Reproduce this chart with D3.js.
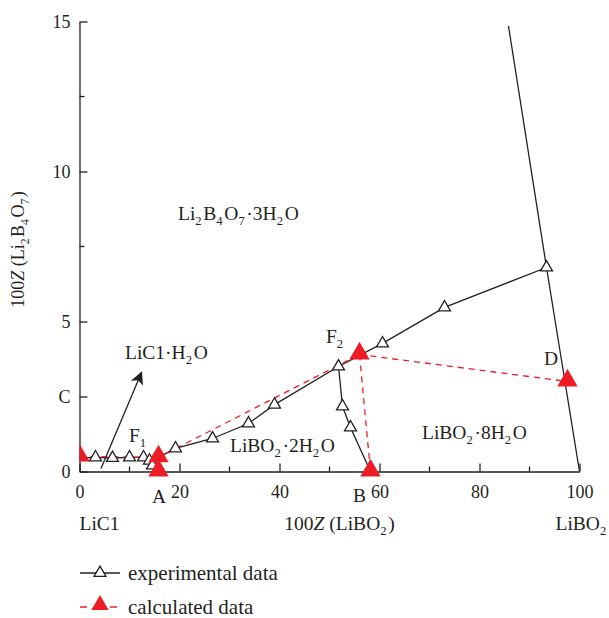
<!DOCTYPE html>
<html><head><meta charset="utf-8">
<script src="https://cdn.jsdelivr.net/npm/d3@7"></script>
<style>body{margin:0;background:#fff}svg text{font-family:"Liberation Serif","DejaVu Serif",serif;fill:#231f20}</style>
</head><body><svg id="c" width="609" height="618"></svg>
<script>
// ---- data ----
const xTicks = [0,20,40,60,80,100];
const xMinor = [10,30,50,70,90];
const yTicks = [0,2.5,5,10,15];
const yTickLabels = ["0","C","5","10","15"];
const yMinor = [7.5,12.5];
// experimental branches [x,y]
const expLiCl = [[0,0.45],[3.2,0.47],[6.6,0.45],[10,0.47],[12.8,0.47],[14.0,0.36],[14.6,0.2],[15.8,0.47]];
const exp2H2O = [[15.8,0.47],[19.2,0.77],[26.6,1.1],[33.8,1.6],[39,2.23],[51.8,3.5]];
const exp8H2O = [[51.8,3.5],[60.6,4.27],[73,5.47],[93.4,6.8]];
const expF2B  = [[51.8,3.5],[52.6,2.17],[54.2,1.47],[58.2,0]];
const expRight = [[85.8,14.85],[93.4,6.8],[100,0]];
const expMarkers = [[3.2,0.47],[6.6,0.45],[10,0.47],[12.8,0.47],[14.0,0.36],[14.6,0.2],[19.2,0.77],[26.6,1.1],[33.8,1.6],[39,2.23],[51.8,3.5],[60.6,4.27],[73,5.47],[93.4,6.8],[52.6,2.17],[54.2,1.47]];
// calculated
const calcLines = [[[0,0.5],[15.8,0.47],[56,3.9]],[[56,3.9],[58.2,0]],[[56,3.9],[97.6,3.0]]];
const calcMarkers = [[0,0.5],[15.8,0],[15.8,0.47],[56,3.9],[58.2,0],[97.6,3.0]];
const arrow = [[4.3,0.1],[12.4,3.3]];

const svg = d3.select("#c");
const x = d3.scaleLinear().domain([0,100]).range([79.5,579.5]);
const y = d3.scaleLinear().domain([0,15]).range([471.5,21.5]);
const FS = 18, LFS = 19.5, GFS = 21;

// axes
const xAxis = d3.axisBottom(x).tickValues(xTicks).tickSizeInner(-8).tickSizeOuter(0).tickPadding(14).tickFormat(d3.format("d"));
const gx = svg.append("g").attr("transform",`translate(0,${y(0)})`).call(xAxis);
gx.selectAll("text").attr("font-size",FS).attr("font-family","Liberation Serif").attr("fill","#231f20");
gx.selectAll("line,path").attr("stroke","#231f20").attr("stroke-width",1.3);
gx.selectAll(".minor").data(xMinor).enter().append("line").attr("x1",d=>x(d)).attr("x2",d=>x(d)).attr("y1",0).attr("y2",-5).attr("stroke","#231f20").attr("stroke-width",1.3);

const yAxis = d3.axisLeft(y).tickValues(yTicks).tickSizeInner(-8).tickSizeOuter(0).tickPadding(9).tickFormat((d,i)=>yTickLabels[i]);
const gy = svg.append("g").attr("transform",`translate(${x(0)},0)`).call(yAxis);
gy.selectAll("text").attr("font-size",FS).attr("font-family","Liberation Serif").attr("fill","#231f20");
gy.selectAll("line,path").attr("stroke","#231f20").attr("stroke-width",1.3);
gy.selectAll(".minor").data(yMinor).enter().append("line").attr("x1",0).attr("x2",5).attr("y1",d=>y(d)).attr("y2",d=>y(d)).attr("stroke","#231f20").attr("stroke-width",1.3);

// helper for chemical text
function chem(g, parts, attrs, fs){
  fs = fs || LFS;
  const t = g.append("text").attr("font-size",fs);
  for (const k in attrs) t.attr(k, attrs[k]);
  parts.forEach(p=>{
    if (typeof p === "string") t.append("tspan").text(p);
    else if (p.sub!==undefined){ t.append("tspan").attr("font-size",fs*0.65).attr("dy",5).text(p.sub); t.append("tspan").attr("dy",-5).text("\u200a"); }
    else if (p.i!==undefined){ t.append("tspan").attr("font-style","italic").text(p.i); }
  });
  return t;
}

const line = d3.line().x(d=>x(d[0])).y(d=>y(d[1]));
// experimental lines
[expLiCl,exp2H2O,exp8H2O,expF2B,expRight].forEach(s=>{
  svg.append("path").attr("d",line(s)).attr("fill","none").attr("stroke","#231f20").attr("stroke-width",1.3);
});
// calc lines
calcLines.forEach(s=>{
  svg.append("path").attr("d",line(s)).attr("fill","none").attr("stroke","#ee1c25").attr("stroke-width",1.3).attr("stroke-dasharray","6,5");
});
// arrow
svg.append("defs").append("marker").attr("id","ah").attr("viewBox","0 0 10 10").attr("refX",9).attr("refY",5)
  .attr("markerWidth",20).attr("markerHeight",13).attr("markerUnits","userSpaceOnUse").attr("orient","auto")
  .append("path").attr("d","M0,0 L10,5 L0,10 L2.5,5 Z").attr("fill","#231f20");
svg.append("path").attr("d",line(arrow)).attr("stroke","#231f20").attr("stroke-width",1.3).attr("marker-end","url(#ah)");

const triOpen = d3.symbol().type(d3.symbolTriangle).size(62);
const triCalc = d3.symbol().type(d3.symbolTriangle).size(180);
svg.selectAll(".exp").data(expMarkers).enter().append("path").attr("d",triOpen)
  .attr("transform",d=>`translate(${x(d[0])},${y(d[1])})`).attr("fill","#fff").attr("stroke","#231f20").attr("stroke-width",1.3);
svg.append("clipPath").attr("id","cp").append("rect").attr("x",x(0)).attr("y",0).attr("width",600).attr("height",y(0)+12);
svg.append("g").attr("clip-path","url(#cp)").selectAll(".calc").data(calcMarkers).enter().append("path").attr("d",triCalc)
  .attr("transform",d=>`translate(${x(d[0])},${y(d[1])-1})`).attr("fill","#ee1c25");

// annotations
const ann = svg.append("g");
chem(ann,["Li",{sub:"2"},"B",{sub:"4"},"O",{sub:"7"},"·3H",{sub:"2"},"O"],{x:x(19.7),y:y(8.4)});
chem(ann,["LiC1·H",{sub:"2"},"O"],{x:x(9.1),y:y(3.75)});
chem(ann,["LiBO",{sub:"2"},"·2H",{sub:"2"},"O"],{x:x(30.1),y:y(0.65)});
chem(ann,["LiBO",{sub:"2"},"·8H",{sub:"2"},"O"],{x:x(68.5),y:y(1.1)});
chem(ann,["F",{sub:"1"}],{x:x(9.9),y:y(1.0)});
chem(ann,["F",{sub:"2"}],{x:x(49.3),y:y(4.3)});
chem(ann,["D"],{x:x(92.9),y:y(3.55)});
chem(ann,["A"],{x:x(15.9),y:y(0)+31,"text-anchor":"middle"});
chem(ann,["B"],{x:x(56),y:y(0)+30,"text-anchor":"middle"});
chem(ann,["LiC1"],{x:x(0),y:y(0)+58});
chem(ann,["100",{i:"Z"}," (LiBO",{sub:"2"},")"],{x:x(52),y:y(0)+58,"text-anchor":"middle"});
chem(ann,["LiBO",{sub:"2"}],{x:x(95.2),y:y(0)+58});
chem(ann,["100",{i:"Z"}," (Li",{sub:"2"},"B",{sub:"4"},"O",{sub:"7"},")"],{transform:`translate(24,${y(7.4)}) rotate(-90)`,"text-anchor":"middle"},18);

// legend
const lg = svg.append("g");
lg.append("line").attr("x1",80).attr("x2",120).attr("y1",573).attr("y2",573).attr("stroke","#231f20").attr("stroke-width",1.3);
lg.append("path").attr("d",triOpen).attr("transform","translate(100,573)").attr("fill","#fff").attr("stroke","#231f20").attr("stroke-width",1.3);
lg.append("text").attr("x",128).attr("y",580).attr("font-size",GFS).text("experimental data");
lg.append("line").attr("x1",80).attr("x2",120).attr("y1",607).attr("y2",607).attr("stroke","#ee1c25").attr("stroke-width",1.3).attr("stroke-dasharray","7,8");
lg.append("path").attr("d",d3.symbol().type(d3.symbolTriangle).size(130)).attr("transform","translate(100,605)").attr("fill","#ee1c25");
lg.append("text").attr("x",128).attr("y",614).attr("font-size",GFS).text("calculated data");
</script></body></html>
